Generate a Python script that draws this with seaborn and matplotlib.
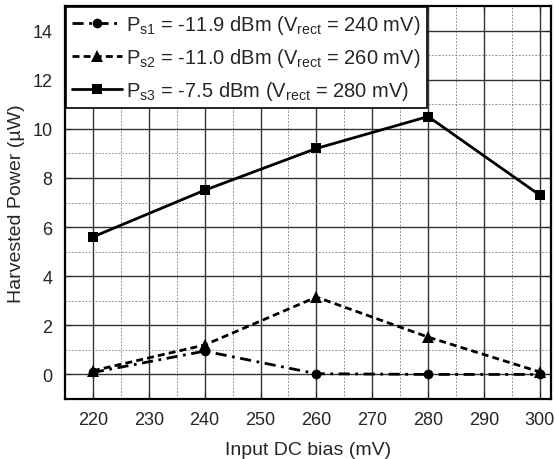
import matplotlib
matplotlib.use("Agg")
import matplotlib.pyplot as plt
import seaborn as sns
import pandas as pd
from matplotlib.ticker import MultipleLocator

# data
bias = [220, 240, 260, 280, 300]
ps1 = [0.08, 0.95, 0.03, 0.0, 0.0]
ps2 = [0.15, 1.2, 3.15, 1.52, 0.1]
ps3 = [5.6, 7.5, 9.2, 10.5, 7.3]
labels = [
    r"P$_{\mathrm{s1}}$ = -11.9 dBm (V$_{\mathrm{rect}}$ = 240 mV)",
    r"P$_{\mathrm{s2}}$ = -11.0 dBm (V$_{\mathrm{rect}}$ = 260 mV)",
    r"P$_{\mathrm{s3}}$ = -7.5 dBm (V$_{\mathrm{rect}}$ = 280 mV)",
]

sns.set_style("ticks")
plt.rcParams["font.family"] = ["Liberation Sans", "DejaVu Sans"]
plt.rcParams["mathtext.fontset"] = "custom"
plt.rcParams["mathtext.rm"] = "Liberation Sans"
plt.rcParams["mathtext.it"] = "Liberation Sans:italic"

fig, ax = plt.subplots(figsize=(5.55, 4.6), dpi=100)
fig.subplots_adjust(left=65/555, right=551/555, top=1-7/460, bottom=1-400/460)

df = pd.DataFrame({"bias": bias, "ps1": ps1, "ps2": ps2, "ps3": ps3})

# ---- three series ----
sns.lineplot(data=df, x="bias", y="ps1", ax=ax, color="black", lw=2,
             marker="o", markersize=7, markeredgewidth=0, label=labels[0],
             linestyle=(0, (4, 2, 1, 2)))
sns.lineplot(data=df, x="bias", y="ps2", ax=ax, color="black", lw=2,
             marker="^", markersize=8, markeredgewidth=0, label=labels[1],
             linestyle=(0, (2.5, 1.5)))
sns.lineplot(data=df, x="bias", y="ps3", ax=ax, color="black", lw=2,
             marker="s", markersize=6.5, markeredgewidth=0, label=labels[2])

ax.set_xlim(215, 302)
ax.set_ylim(-1, 15)
ax.xaxis.set_major_locator(MultipleLocator(10))
ax.xaxis.set_minor_locator(MultipleLocator(5))
ax.yaxis.set_major_locator(MultipleLocator(2))
ax.yaxis.set_minor_locator(MultipleLocator(1))
ax.grid(which="major", color="#333333", lw=1.0, ls="-")
ax.grid(which="minor", color="#777777", lw=0.6, ls=(0, (2, 2)))
ax.set_axisbelow(True)
ax.tick_params(which="major", direction="in", length=5, top=True, right=True,
               labelsize=13, pad=9)
ax.tick_params(which="minor", length=0)
for s in ax.spines.values():
    s.set_linewidth(1.6)
    s.set_color("black")

ax.set_xlabel("Input DC bias (mV)", fontsize=14, labelpad=9)
ax.set_ylabel("Harvested Power (\u00b5W)", fontsize=14, labelpad=5)

leg = ax.legend(loc="upper left", fontsize=14.5, frameon=True, fancybox=False,
                edgecolor="black", framealpha=1, borderaxespad=0.05,
                handlelength=2.5, handletextpad=0.2, labelspacing=0.5,
                borderpad=0.3)
leg.get_frame().set_linewidth(1.2)

plt.savefig("out.png", dpi=100)
